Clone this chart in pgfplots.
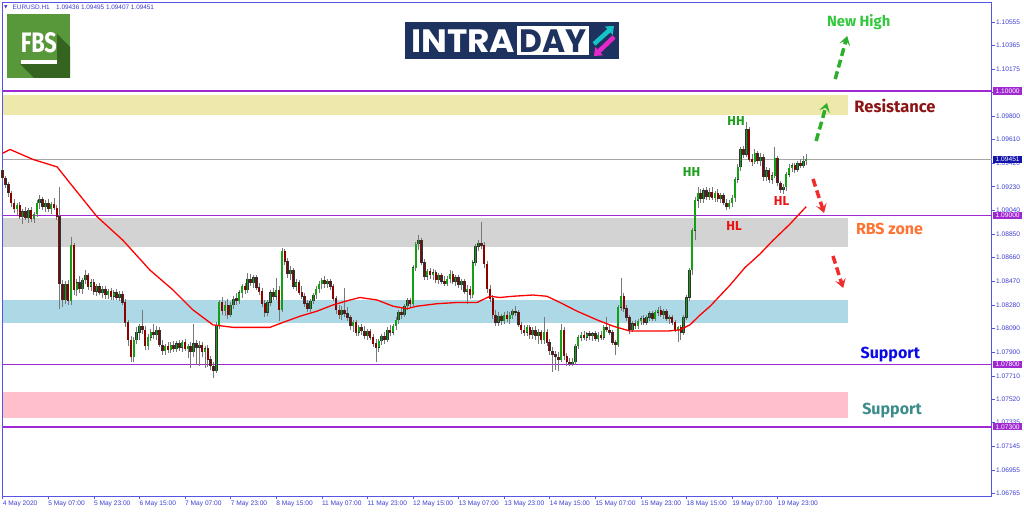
\documentclass[border=0pt]{standalone}
\usepackage{pgfplots}
\pgfplotsset{compat=1.18}
\usepackage{pgfplotstable}
\usepackage{graphicx}
\usetikzlibrary{arrows.meta}
\usepackage{fontspec}
\setmainfont{Liberation Sans}
\newfontfamily\fira{Fira Sans}
\newfontfamily\dejavu{DejaVu Sans}
\newfontfamily\popp{Poppins}

\definecolor{mtblue}{RGB}{60,60,210}
\definecolor{framec}{RGB}{85,85,225}
\definecolor{lvl}{RGB}{160,40,210}
\definecolor{lastbox}{RGB}{20,20,170}
\definecolor{bull}{RGB}{20,160,20}
\definecolor{bear}{RGB}{140,0,0}
\definecolor{wick}{RGB}{120,120,120}
\definecolor{zoneY}{RGB}{238,232,170}
\definecolor{zoneG}{RGB}{211,211,211}
\definecolor{zoneB}{RGB}{173,216,230}
\definecolor{zoneP}{RGB}{255,192,203}
\definecolor{fbsgreen}{RGB}{88,152,58}
\definecolor{fbsdark}{RGB}{52,100,32}
\definecolor{navy}{RGB}{30,50,95}
\definecolor{cyanA}{RGB}{20,195,200}
\definecolor{magA}{RGB}{230,40,200}
\definecolor{arrG}{RGB}{45,175,45}
\definecolor{arrR}{RGB}{240,45,45}
\definecolor{hh}{RGB}{30,160,30}
\definecolor{hl}{RGB}{235,20,20}
\definecolor{newhigh}{RGB}{50,200,60}
\definecolor{resist}{RGB}{140,20,20}
\definecolor{rbs}{RGB}{255,115,50}
\definecolor{supp}{RGB}{10,10,230}
\definecolor{supp2}{RGB}{60,140,140}

% EURUSD H1 candles: bar index, open, high, low, close
\pgfplotstableread{
n o h l c
0 1.0936 1.0938 1.0928 1.0930
1 1.0930 1.0932 1.0922 1.0925
2 1.0925 1.0927 1.0915 1.0918
3 1.0918 1.0920 1.0907 1.0910
4 1.0910 1.0913 1.0902 1.0905
5 1.0905 1.0910 1.0900 1.0908
6 1.0908 1.0911 1.0897 1.0899
7 1.0899 1.0905 1.0893 1.0903
8 1.0903 1.0907 1.0896 1.0898
9 1.0898 1.0906 1.0894 1.0904
10 1.0904 1.0907 1.0895 1.0897
11 1.0897 1.0903 1.0894 1.0901
12 1.0901 1.0912 1.0899 1.0910
13 1.0910 1.0916 1.0905 1.0913
14 1.0913 1.0915 1.0904 1.0907
15 1.0907 1.0912 1.0903 1.0910
16 1.0910 1.0913 1.0903 1.0905
17 1.0905 1.0911 1.0901 1.0909
18 1.0909 1.0914 1.0904 1.0906
19 1.0906 1.0908 1.0896 1.0899
20 1.0899 1.0923 1.0825 1.0845
21 1.0845 1.0848 1.0826 1.0832
22 1.0832 1.0847 1.0829 1.0845
23 1.0845 1.0848 1.0828 1.0831
24 1.0831 1.0883 1.0828 1.0876
25 1.0876 1.0878 1.0836 1.0840
26 1.0840 1.0849 1.0835 1.0846
27 1.0846 1.0851 1.0838 1.0841
28 1.0841 1.0850 1.0837 1.0848
29 1.0848 1.0856 1.0845 1.0852
30 1.0852 1.0854 1.0840 1.0843
31 1.0843 1.0849 1.0839 1.0846
32 1.0846 1.0849 1.0836 1.0839
33 1.0839 1.0845 1.0835 1.0843
34 1.0843 1.0846 1.0836 1.0838
35 1.0838 1.0843 1.0834 1.0841
36 1.0841 1.0843 1.0833 1.0836
37 1.0836 1.0841 1.0833 1.0839
38 1.0839 1.0842 1.0832 1.0835
39 1.0835 1.0840 1.0832 1.0838
40 1.0838 1.0841 1.0832 1.0834
41 1.0834 1.0839 1.0831 1.0837
42 1.0837 1.0839 1.0828 1.0830
43 1.0830 1.0833 1.0810 1.0814
44 1.0814 1.0816 1.0795 1.0800
45 1.0800 1.0803 1.0782 1.0786
46 1.0786 1.0802 1.0782 1.0800
47 1.0800 1.0810 1.0797 1.0806
48 1.0806 1.0813 1.0800 1.0811
49 1.0811 1.0824 1.0805 1.0808
50 1.0808 1.0811 1.0792 1.0795
51 1.0795 1.0805 1.0792 1.0802
52 1.0802 1.0809 1.0799 1.0806
53 1.0806 1.0813 1.0801 1.0804
54 1.0804 1.0811 1.0800 1.0808
55 1.0808 1.0810 1.0794 1.0796
56 1.0796 1.0800 1.0788 1.0791
57 1.0791 1.0797 1.0788 1.0795
58 1.0795 1.0798 1.0789 1.0792
59 1.0792 1.0798 1.0789 1.0796
60 1.0796 1.0799 1.0790 1.0793
61 1.0793 1.0799 1.0790 1.0797
62 1.0797 1.0800 1.0791 1.0794
63 1.0794 1.0800 1.0790 1.0798
64 1.0798 1.0801 1.0791 1.0793
65 1.0793 1.0797 1.0785 1.0795
66 1.0795 1.0798 1.0777 1.0790
67 1.0790 1.0813 1.0786 1.0797
68 1.0797 1.0800 1.0780 1.0794
69 1.0794 1.0799 1.0779 1.0796
70 1.0796 1.0798 1.0786 1.0790
71 1.0790 1.0795 1.0777 1.0793
72 1.0793 1.0796 1.0778 1.0784
73 1.0784 1.0787 1.0776 1.0779
74 1.0779 1.0782 1.0769 1.0775
75 1.0775 1.0814 1.0773 1.0812
76 1.0812 1.0832 1.0809 1.0830
77 1.0830 1.0834 1.0820 1.0823
78 1.0823 1.0831 1.0819 1.0828
79 1.0828 1.0833 1.0817 1.0820
80 1.0820 1.0830 1.0818 1.0828
81 1.0828 1.0835 1.0825 1.0833
82 1.0833 1.0838 1.0828 1.0831
83 1.0831 1.0840 1.0829 1.0838
84 1.0838 1.0845 1.0834 1.0843
85 1.0843 1.0846 1.0837 1.0840
86 1.0840 1.0854 1.0838 1.0849
87 1.0849 1.0853 1.0843 1.0846
88 1.0846 1.0852 1.0842 1.0850
89 1.0850 1.0852 1.0840 1.0842
90 1.0842 1.0846 1.0836 1.0839
91 1.0839 1.0842 1.0826 1.0829
92 1.0829 1.0832 1.0818 1.0822
93 1.0822 1.0832 1.0819 1.0830
94 1.0830 1.0840 1.0827 1.0838
95 1.0838 1.0842 1.0832 1.0835
96 1.0835 1.0850 1.0832 1.0840
97 1.0840 1.0843 1.0815 1.0824
98 1.0824 1.0874 1.0822 1.0871
99 1.0871 1.0873 1.0860 1.0863
100 1.0863 1.0866 1.0850 1.0853
101 1.0853 1.0859 1.0848 1.0856
102 1.0856 1.0858 1.0841 1.0843
103 1.0843 1.0849 1.0839 1.0846
104 1.0846 1.0848 1.0836 1.0838
105 1.0838 1.0843 1.0833 1.0835
106 1.0835 1.0838 1.0826 1.0829
107 1.0829 1.0832 1.0822 1.0825
108 1.0825 1.0833 1.0822 1.0831
109 1.0831 1.0838 1.0829 1.0836
110 1.0836 1.0843 1.0833 1.0841
111 1.0841 1.0847 1.0838 1.0845
112 1.0845 1.0850 1.0841 1.0848
113 1.0848 1.0851 1.0842 1.0845
114 1.0845 1.0849 1.0842 1.0847
115 1.0847 1.0849 1.0840 1.0843
116 1.0843 1.0845 1.0831 1.0833
117 1.0833 1.0835 1.0821 1.0824
118 1.0824 1.0828 1.0817 1.0820
119 1.0820 1.0827 1.0816 1.0824
120 1.0824 1.0842 1.0818 1.0821
121 1.0821 1.0826 1.0815 1.0818
122 1.0818 1.0820 1.0808 1.0811
123 1.0811 1.0816 1.0806 1.0814
124 1.0814 1.0816 1.0803 1.0806
125 1.0806 1.0812 1.0803 1.0810
126 1.0810 1.0813 1.0804 1.0807
127 1.0807 1.0811 1.0801 1.0803
128 1.0803 1.0809 1.0800 1.0807
129 1.0807 1.0809 1.0800 1.0802
130 1.0802 1.0805 1.0794 1.0797
131 1.0797 1.0801 1.0782 1.0794
132 1.0794 1.0801 1.0790 1.0799
133 1.0799 1.0805 1.0796 1.0803
134 1.0803 1.0806 1.0797 1.0800
135 1.0800 1.0810 1.0798 1.0808
136 1.0808 1.0812 1.0803 1.0806
137 1.0806 1.0813 1.0804 1.0811
138 1.0811 1.0818 1.0808 1.0816
139 1.0816 1.0824 1.0813 1.0822
140 1.0822 1.0826 1.0817 1.0820
141 1.0820 1.0829 1.0818 1.0827
142 1.0827 1.0834 1.0824 1.0832
143 1.0832 1.0834 1.0826 1.0829
144 1.0829 1.0860 1.0827 1.0858
145 1.0858 1.0879 1.0855 1.0877
146 1.0877 1.0884 1.0872 1.0880
147 1.0880 1.0882 1.0860 1.0862
148 1.0862 1.0865 1.0848 1.0851
149 1.0851 1.0857 1.0848 1.0855
150 1.0855 1.0858 1.0849 1.0852
151 1.0852 1.0857 1.0848 1.0854
152 1.0854 1.0856 1.0846 1.0848
153 1.0848 1.0854 1.0845 1.0852
154 1.0852 1.0854 1.0845 1.0847
155 1.0847 1.0851 1.0843 1.0845
156 1.0845 1.0851 1.0843 1.0849
157 1.0849 1.0856 1.0846 1.0853
158 1.0853 1.0855 1.0845 1.0847
159 1.0847 1.0852 1.0843 1.0850
160 1.0850 1.0852 1.0842 1.0844
161 1.0844 1.0849 1.0840 1.0847
162 1.0847 1.0849 1.0837 1.0839
163 1.0839 1.0844 1.0829 1.0841
164 1.0841 1.0843 1.0833 1.0836
165 1.0836 1.0864 1.0834 1.0862
166 1.0862 1.0877 1.0859 1.0875
167 1.0875 1.0880 1.0871 1.0878
168 1.0878 1.0895 1.0873 1.0876
169 1.0876 1.0879 1.0858 1.0861
170 1.0861 1.0863 1.0838 1.0841
171 1.0841 1.0844 1.0830 1.0833
172 1.0833 1.0836 1.0817 1.0820
173 1.0820 1.0824 1.0811 1.0814
174 1.0814 1.0822 1.0811 1.0819
175 1.0819 1.0821 1.0812 1.0815
176 1.0815 1.0822 1.0813 1.0820
177 1.0820 1.0823 1.0814 1.0817
178 1.0817 1.0822 1.0813 1.0820
179 1.0820 1.0825 1.0817 1.0823
180 1.0823 1.0827 1.0819 1.0822
181 1.0822 1.0824 1.0810 1.0812
182 1.0812 1.0814 1.0805 1.0808
183 1.0808 1.0812 1.0803 1.0806
184 1.0806 1.0812 1.0803 1.0810
185 1.0810 1.0812 1.0801 1.0804
186 1.0804 1.0810 1.0801 1.0808
187 1.0808 1.0811 1.0800 1.0803
188 1.0803 1.0809 1.0797 1.0806
189 1.0806 1.0808 1.0797 1.0800
190 1.0800 1.0818 1.0797 1.0806
191 1.0806 1.0809 1.0795 1.0798
192 1.0798 1.0801 1.0788 1.0791
193 1.0791 1.0794 1.0774 1.0788
194 1.0788 1.0791 1.0776 1.0786
195 1.0786 1.0790 1.0775 1.0784
196 1.0784 1.0813 1.0782 1.0808
197 1.0808 1.0810 1.0784 1.0787
198 1.0787 1.0789 1.0779 1.0782
199 1.0782 1.0785 1.0779 1.0781
200 1.0781 1.0785 1.0779 1.0782
201 1.0782 1.0797 1.0780 1.0795
202 1.0795 1.0804 1.0793 1.0802
203 1.0802 1.0806 1.0799 1.0804
204 1.0804 1.0807 1.0800 1.0802
205 1.0802 1.0806 1.0799 1.0805
206 1.0805 1.0807 1.0800 1.0803
207 1.0803 1.0806 1.0799 1.0805
208 1.0805 1.0807 1.0799 1.0801
209 1.0801 1.0806 1.0798 1.0804
210 1.0804 1.0807 1.0800 1.0802
211 1.0802 1.0812 1.0800 1.0810
212 1.0810 1.0818 1.0806 1.0808
213 1.0808 1.0812 1.0804 1.0806
214 1.0806 1.0808 1.0796 1.0798
215 1.0798 1.0800 1.0788 1.0796
216 1.0796 1.0828 1.0794 1.0826
217 1.0826 1.0850 1.0823 1.0835
218 1.0835 1.0838 1.0822 1.0825
219 1.0825 1.0828 1.0815 1.0818
220 1.0818 1.0820 1.0805 1.0808
221 1.0808 1.0815 1.0806 1.0813
222 1.0813 1.0816 1.0809 1.0811
223 1.0811 1.0817 1.0809 1.0815
224 1.0815 1.0819 1.0812 1.0817
225 1.0817 1.0820 1.0812 1.0814
226 1.0814 1.0820 1.0812 1.0818
227 1.0818 1.0823 1.0815 1.0821
228 1.0821 1.0823 1.0815 1.0817
229 1.0817 1.0824 1.0815 1.0822
230 1.0822 1.0826 1.0819 1.0824
231 1.0824 1.0827 1.0818 1.0820
232 1.0820 1.0825 1.0817 1.0823
233 1.0823 1.0825 1.0815 1.0817
234 1.0817 1.0820 1.0813 1.0818
235 1.0818 1.0820 1.0812 1.0814
236 1.0814 1.0816 1.0806 1.0808
237 1.0808 1.0811 1.0798 1.0810
238 1.0810 1.0812 1.0800 1.0806
239 1.0806 1.0820 1.0804 1.0818
240 1.0818 1.0836 1.0816 1.0834
241 1.0834 1.0858 1.0831 1.0856
242 1.0856 1.0890 1.0852 1.0888
243 1.0888 1.0915 1.0880 1.0912
244 1.0912 1.0923 1.0906 1.0918
245 1.0918 1.0921 1.0910 1.0913
246 1.0913 1.0922 1.0910 1.0920
247 1.0920 1.0923 1.0912 1.0915
248 1.0915 1.0922 1.0912 1.0919
249 1.0919 1.0923 1.0912 1.0914
250 1.0914 1.0920 1.0911 1.0918
251 1.0918 1.0921 1.0911 1.0913
252 1.0913 1.0918 1.0910 1.0916
253 1.0916 1.0918 1.0908 1.0910
254 1.0910 1.0913 1.0904 1.0907
255 1.0907 1.0912 1.0905 1.0910
256 1.0910 1.0916 1.0907 1.0914
257 1.0914 1.0931 1.0911 1.0929
258 1.0929 1.0941 1.0926 1.0939
259 1.0939 1.0955 1.0936 1.0953
260 1.0953 1.0956 1.0946 1.0949
261 1.0949 1.0975 1.0947 1.0969
262 1.0969 1.0971 1.0943 1.0945
263 1.0945 1.0949 1.0940 1.0943
264 1.0943 1.0953 1.0941 1.0950
265 1.0950 1.0952 1.0941 1.0944
266 1.0944 1.0950 1.0940 1.0947
267 1.0947 1.0949 1.0928 1.0931
268 1.0931 1.0939 1.0928 1.0936
269 1.0936 1.0938 1.0926 1.0929
270 1.0929 1.0935 1.0925 1.0932
271 1.0932 1.0955 1.0930 1.0946
272 1.0946 1.0948 1.0924 1.0926
273 1.0926 1.0928 1.0918 1.0921
274 1.0921 1.0925 1.0917 1.0923
275 1.0923 1.0935 1.0920 1.0933
276 1.0933 1.0941 1.0931 1.0938
277 1.0938 1.0942 1.0935 1.0940
278 1.0940 1.0942 1.0934 1.0937
279 1.0937 1.0944 1.0935 1.0942
280 1.0942 1.0945 1.0938 1.0940
281 1.0940 1.0948 1.0938 1.09436
282 1.09436 1.09495 1.09407 1.09451
}\candles

\begin{document}
\begin{tikzpicture}[x=1pt,y=1pt]
\useasboundingbox (0,0) rectangle (1024,511);
\begin{axis}[
  scale only axis, width=989.2pt, height=494pt,
  at={(2.5pt,15pt)}, anchor=south west,
  xmin=-0.07, xmax=347.13, ymin=1.067444, ymax=1.107154,
  clip=false,
  axis line style={framec, line width=0.8pt},
  tick style={framec, line width=0.6pt},
  tick align=outside, major tick length=3pt,
  xtick pos=left, ytick pos=right, yticklabel pos=right,
  scaled y ticks=false,
  xtick={0,16,...,272},
  xticklabels={4 May 2020,5 May 07:00,5 May 23:00,6 May 15:00,7 May 07:00,7 May 23:00,8 May 15:00,11 May 07:00,11 May 23:00,12 May 15:00,13 May 07:00,13 May 23:00,14 May 15:00,15 May 07:00,15 May 23:00,18 May 15:00,19 May 07:00,19 May 23:00},
  ytick={1.06765,1.06955,1.07145,1.07335,1.0752,1.0771,1.079,1.0809,1.0828,1.0847,1.0866,1.0885,1.0904,1.0923,1.0942,1.0961,1.098,1.0999,1.10175,1.10365,1.10555},
  yticklabels={1.06765,1.06955,1.07145,1.07335,1.07520,1.07710,1.07900,1.08090,1.08280,1.08470,1.08660,1.08850,1.09040,1.09230,1.09420,1.09610,1.09800,1.09990,1.10175,1.10365,1.10555},
  tick label style={font=\fontsize{6.6}{7}\selectfont, text=mtblue},
  xticklabel style={anchor=north west, inner sep=0pt, yshift=-1.5pt},
  yticklabel style={anchor=west, inner sep=0pt, xshift=1.3pt},
  /pgf/number format/assume math mode=true,
]
% zones
\addplot[fill=zoneY, draw=none, forget plot] coordinates {(-0.07,1.09807) (296.7,1.09807) (296.7,1.09968) (-0.07,1.09968)};
\addplot[fill=zoneG, draw=none, forget plot] coordinates {(-0.07,1.08746) (296.7,1.08746) (296.7,1.08979) (-0.07,1.08979)};
\addplot[fill=zoneB, draw=none, forget plot] coordinates {(-0.07,1.08135) (296.7,1.08135) (296.7,1.08320) (-0.07,1.08320)};
\addplot[fill=zoneP, draw=none, forget plot] coordinates {(-0.07,1.07371) (296.7,1.07371) (296.7,1.07580) (-0.07,1.07580)};
% levels
\addplot[lvl, line width=1.4pt, forget plot] coordinates {(-0.07,1.1) (347.13,1.1)};
\addplot[lvl, line width=1.4pt, forget plot] coordinates {(-0.07,1.09) (347.13,1.09)};
\addplot[lvl, line width=1.4pt, forget plot] coordinates {(-0.07,1.078) (347.13,1.078)};
\addplot[lvl, line width=1.4pt, forget plot] coordinates {(-0.07,1.073) (347.13,1.073)};
\addplot[black!35, line width=0.8pt, forget plot] coordinates {(-0.07,1.09451) (347.13,1.09451)};
% wicks
\addplot[draw=none, mark=none, forget plot,
  error bars/.cd, y dir=both, y explicit, error mark=none,
  error bar style={draw=wick, line width=0.75pt}]
  table[x=n, y expr={0.5*(\thisrow{h}+\thisrow{l})}, y error expr={0.5*(\thisrow{h}-\thisrow{l})}] {\candles};
% body outlines
\addplot[draw=none, mark=none, forget plot,
  error bars/.cd, y dir=both, y explicit, error mark=none,
  error bar style={draw=black!80, line width=2.5pt}]
  table[x=n, y expr={0.5*(\thisrow{o}+\thisrow{c})}, y error expr={0.5*abs(\thisrow{c}-\thisrow{o})+0.00002}] {\candles};
% bull bodies
\addplot[draw=none, mark=none, forget plot, restrict y to domain=1:1.2,
  error bars/.cd, y dir=both, y explicit, error mark=none,
  error bar style={draw=bull, line width=1.5pt}]
  table[x=n, y expr={\thisrow{c}>\thisrow{o} ? 0.5*(\thisrow{o}+\thisrow{c}) : 5}, y error expr={0.5*abs(\thisrow{c}-\thisrow{o})}] {\candles};
% bear bodies
\addplot[draw=none, mark=none, forget plot, restrict y to domain=1:1.2,
  error bars/.cd, y dir=both, y explicit, error mark=none,
  error bar style={draw=bear, line width=1.5pt}]
  table[x=n, y expr={\thisrow{c}<\thisrow{o} ? 0.5*(\thisrow{o}+\thisrow{c}) : 5}, y error expr={0.5*abs(\thisrow{c}-\thisrow{o})}] {\candles};
% moving average
\addplot[red, line width=1.3pt, line join=round, forget plot] coordinates {
(0,1.0950) (2.6,1.0953) (10.6,1.0945) (19.1,1.0939) (23.6,1.0926) (33.1,1.0899)
(42.2,1.0880) (51.7,1.0856) (59.8,1.0840) (66.8,1.0824) (73.8,1.0812) (80.8,1.0810)
(86.8,1.0810) (93.8,1.0810) (98.4,1.0814) (104.4,1.0819) (110.3,1.0823) (115.9,1.0828)
(121.9,1.0832) (125.4,1.0834) (131.4,1.0832) (137.0,1.0827) (141.9,1.0825) (145.4,1.0827)
(152.4,1.0829) (159.5,1.0830) (166.5,1.0830) (171.0,1.0835) (174.5,1.0834) (179.1,1.0835)
(186.1,1.0836) (191.0,1.0835) (195.6,1.0830) (201.6,1.0823) (208.6,1.0816) (214.2,1.0811)
(220.2,1.0807) (226.1,1.0807) (233.2,1.0807) (237.7,1.0808) (241.2,1.0812) (244.8,1.0820)
(248.3,1.0827) (255.3,1.0844) (260.5,1.0858) (265.8,1.0869) (270.4,1.0880) (276.3,1.0893)
(282.0,1.0907)};
% arrows
\addplot[arrG, line width=3.5pt, dash pattern=on 8pt off 4pt, -{Stealth[length=9pt,width=11pt,inset=4pt]}, forget plot] coordinates {(285.5,1.09598) (289.3,1.09904)};
\addplot[arrG, line width=3.5pt, dash pattern=on 8pt off 4pt, -{Stealth[length=9pt,width=11pt,inset=4pt]}, forget plot] coordinates {(292.2,1.10096) (296.4,1.10442)};
\addplot[arrR, line width=3.5pt, dash pattern=on 8pt off 4pt, -{Stealth[length=9pt,width=11pt,inset=4pt]}, forget plot] coordinates {(284.4,1.09293) (288.3,1.09019)};
\addplot[arrR, line width=3.5pt, dash pattern=on 8pt off 4pt, -{Stealth[length=9pt,width=11pt,inset=4pt]}, forget plot] coordinates {(291.4,1.08674) (295.0,1.08416)};
\coordinate (b1) at (axis cs:347.13,1.1);
\coordinate (b2) at (axis cs:347.13,1.09451);
\coordinate (b3) at (axis cs:347.13,1.09);
\coordinate (b4) at (axis cs:347.13,1.078);
\coordinate (b5) at (axis cs:347.13,1.073);
\end{axis}

% price boxes
\tikzset{pbox/.style={anchor=west, inner sep=0pt, minimum width=29.5pt, minimum height=7.2pt, text=white, font=\fontsize{6.6}{7}\selectfont, xshift=1pt}}
\node[pbox, fill=lvl] at (b1) {1.10000};
\node[pbox, fill=lastbox] at (b2) {1.09451};
\node[pbox, fill=lvl] at (b3) {1.09000};
\node[pbox, fill=lvl] at (b4) {1.07800};
\node[pbox, fill=lvl] at (b5) {1.07300};

% header
\node[anchor=west, inner sep=0pt, text=mtblue, font=\dejavu\fontsize{4.5}{5}\selectfont] at (4,504) {▼};
\node[anchor=west, inner sep=0pt, text=mtblue, font=\fontsize{6.4}{7}\selectfont] at (12.5,504) {EURUSD.H1};
\node[anchor=west, inner sep=0pt, text=mtblue, font=\fontsize{6.4}{7}\selectfont] at (56,504) {1.09436 1.09495 1.09407 1.09451};

% FBS logo
\fill[fbsgreen] (7,433) rectangle (70,497);
\fill[fbsdark] (57,477) -- (70,464) -- (70,433) -- (34,433) -- (20,447) -- (57,447) -- cycle;
\node[anchor=south west, inner sep=0pt, text=white] at (20.7,458) {\resizebox{36pt}{20pt}{\fira\bfseries FBS}};
\fill[white] (20.7,447) rectangle (57,451);

% INTRADAY logo
\fill[navy] (405,451.7) rectangle (619,489.3);
\node[anchor=south west, inner sep=0pt, text=white] at (411,458.3) {\resizebox{104pt}{22.7pt}{\popp\bfseries INTRA}};
\fill[white] (516.7,455.7) rectangle (589.3,485);
\node[anchor=south west, inner sep=0pt, text=navy] at (519.5,458.3) {\resizebox{67pt}{22.7pt}{\popp\bfseries DAY}};
\draw[cyanA, line width=4.5pt, -{Triangle[length=7pt,width=11pt]}] (594,467) -- (614,485);
\draw[magA, line width=4.5pt, -{Triangle[length=7pt,width=11pt]}] (614,474) -- (594,455);

% annotations
\node[anchor=base, inner sep=0pt, text=hh, font=\fira\bfseries\fontsize{13}{14}\selectfont] at (691.5,334) {HH};
\node[anchor=base, inner sep=0pt, text=hh, font=\fira\bfseries\fontsize{13}{14}\selectfont] at (736,385) {HH};
\node[anchor=base, inner sep=0pt, text=hl, font=\fira\bfseries\fontsize{13}{14}\selectfont] at (734,280.3) {HL};
\node[anchor=base, inner sep=0pt, text=hl, font=\fira\bfseries\fontsize{13}{14}\selectfont] at (781.5,305) {HL};
\node[anchor=base, inner sep=0pt, text=newhigh, font=\fira\bfseries\fontsize{14.8}{16}\selectfont] at (858.7,484.3) {New High};
\node[anchor=base, inner sep=0pt, text=resist, font=\fira\bfseries\fontsize{16.5}{18}\selectfont] at (895,398.3) {Resistance};
\node[anchor=base, inner sep=0pt, text=rbs, font=\fira\bfseries\fontsize{16}{18}\selectfont] at (889.5,276) {RBS zone};
\node[anchor=base, inner sep=0pt, text=supp, font=\fira\bfseries\fontsize{16}{18}\selectfont] at (890.3,152.7) {Support};
\node[anchor=base, inner sep=0pt, text=supp2, font=\fira\bfseries\fontsize{16}{18}\selectfont] at (892,96) {Support};
\end{tikzpicture}
\end{document}
